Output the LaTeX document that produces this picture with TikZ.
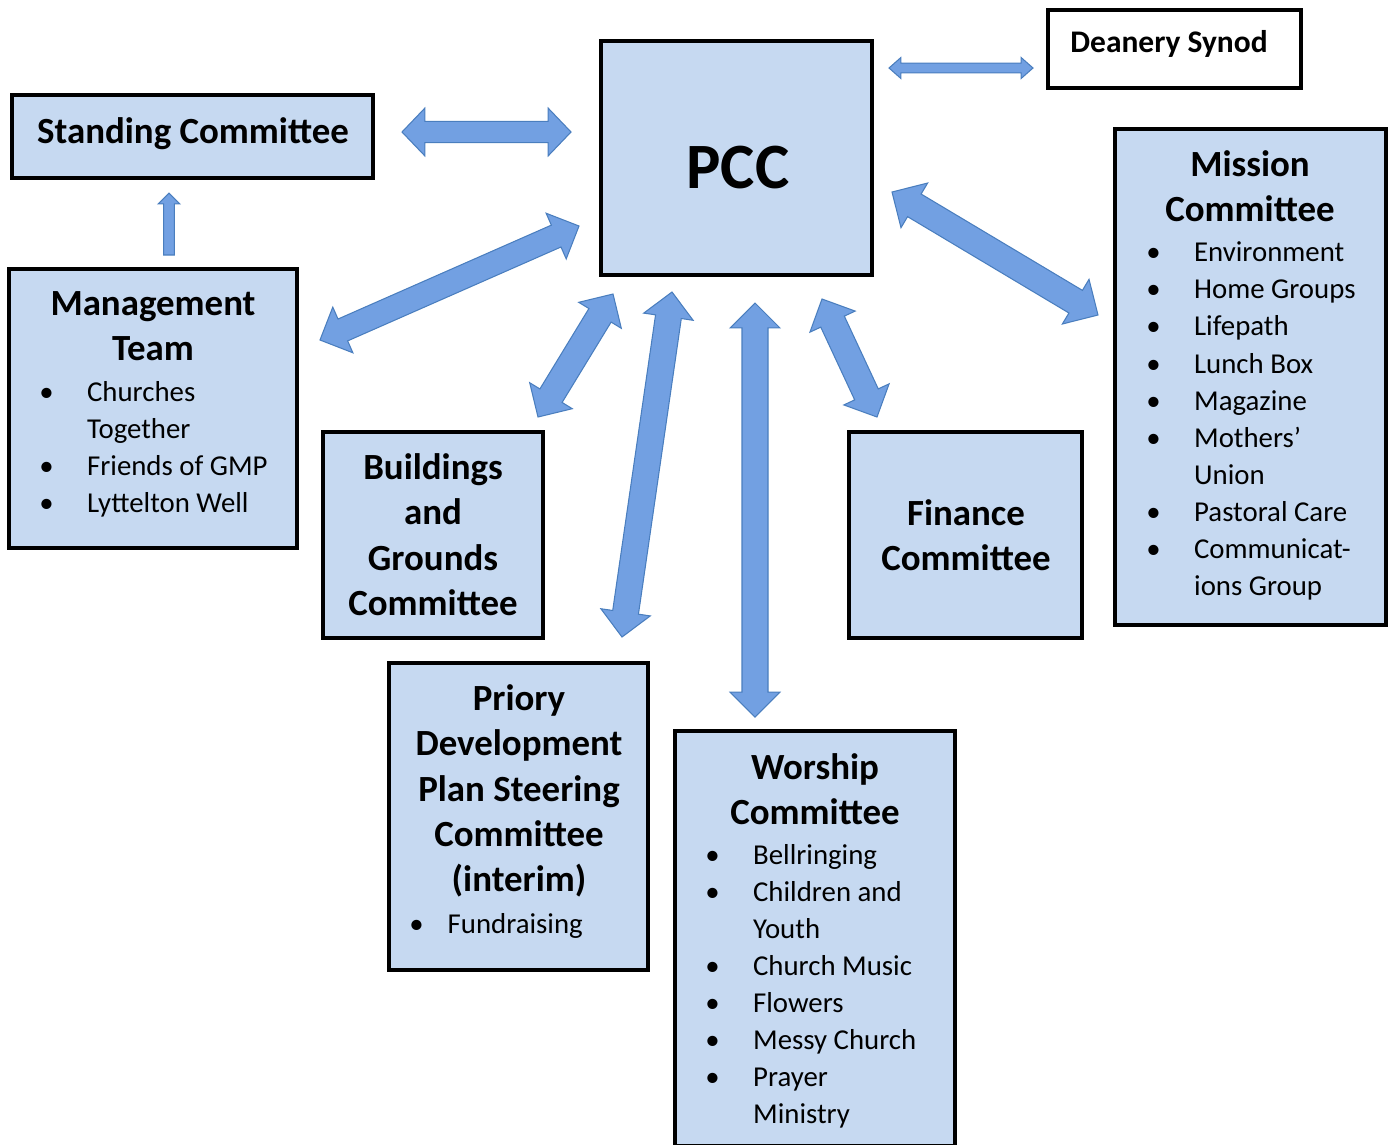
\documentclass[tikz,border=0pt]{standalone}
\usepackage{fontspec}
\setmainfont{Carlito}
\usetikzlibrary{calc, fit}

\definecolor{boxblue}{RGB}{198,217,241}
\definecolor{arrowfill}{RGB}{114,160,226}
\definecolor{arrowline}{RGB}{74,126,190}

\newcommand{\headfont}{\fontsize{21}{25.75}\selectfont\bfseries}
\newcommand{\listfont}{\fontsize{16.4}{21.1}\selectfont}
\newcommand{\bul}[1][27.2pt]{\makebox[#1][l]{\textbullet}}
\newcommand{\nobul}[1][27.2pt]{\hspace*{#1}}

% block arrow with a head at both ends: from, to, head length, head half width, shaft half width
\newcommand{\dblarrow}[5]{%
  \filldraw[blockarrow] (#1)
    -- ($(#1)!#3!(#2)!#4!90:(#2)$) -- ($(#1)!#3!(#2)!#5!90:(#2)$)
    -- ($(#2)!#3!(#1)!#5!-90:(#1)$) -- ($(#2)!#3!(#1)!#4!-90:(#1)$)
    -- (#2)
    -- ($(#2)!#3!(#1)!#4!90:(#1)$) -- ($(#2)!#3!(#1)!#5!90:(#1)$)
    -- ($(#1)!#3!(#2)!#5!-90:(#2)$) -- ($(#1)!#3!(#2)!#4!-90:(#2)$)
    -- cycle;}
% block arrow with a head at the second end only
\newcommand{\sglarrow}[5]{%
  \filldraw[blockarrow] ($(#1)!#5!90:(#2)$)
    -- ($(#2)!#3!(#1)!#5!-90:(#1)$) -- ($(#2)!#3!(#1)!#4!-90:(#1)$)
    -- (#2)
    -- ($(#2)!#3!(#1)!#4!90:(#1)$) -- ($(#2)!#3!(#1)!#5!90:(#1)$)
    -- ($(#1)!#5!-90:(#2)$)
    -- cycle;}

\begin{document}
\begin{tikzpicture}[x=0.02cm, y=-0.02cm,
  box/.style={draw=black, line width=2.3pt, fill=boxblue, inner sep=0pt},
  plainbox/.style={draw=black, line width=2.1pt, fill=white, inner sep=0pt},
  head/.style={font=\headfont, align=center, anchor=north, inner sep=0pt},
  items/.style={font=\listfont, align=left, anchor=north west, inner sep=0pt},
  blockarrow/.style={fill=arrowfill, draw=arrowline, line width=0.6pt, line join=miter}
]
\useasboundingbox (0,0) rectangle (1392,1144);

% ----------------- BOXES -----------------
\node[box, fit={(12,95) (373,178)}] (standing) {};
\node[box, fit={(601,41) (872,275)}] (pcc) {};
\node[plainbox, fit={(1048,10) (1301,88)}] (deanery) {};
\node[box, fit={(9,269) (297,548)}] (mgmt) {};
\node[box, fit={(323,432) (543,638)}] (build) {};
\node[box, fit={(849,432) (1082,638)}] (finance) {};
\node[box, fit={(1115,129) (1386,625)}] (mission) {};
\node[box, fit={(389,663) (648,970)}] (priory) {};
\node[box, fit={(675,731) (955,1146)}] (worship) {};

% ----------------- TEXTS -----------------
\node[font=\headfont, anchor=base, inner sep=0pt] (standtext) at (193,143) {Standing Committee};
\node[font=\fontsize{36.8}{44}\selectfont\bfseries, anchor=base, inner sep=0pt] (pcctext) at (738,188) {PCC};
\node[font=\fontsize{17.9}{21}\selectfont\bfseries, anchor=base, inner sep=0pt] (deanerytext) at (1169,52) {Deanery Synod};

\node[head] (mgmthead) at (153,283.5) {\strut Management\\Team};
\node[items] (mgmtlist) at (39,375) {\strut\bul Churches\\\nobul Together\\\bul Friends of GMP\\\bul Lyttelton Well};

\node[head] (buildhead) at (433,447.5) {\strut Buildings\\and\\Grounds\\Committee};
\node[head] (financehead) at (966,493.5) {\strut Finance\\Committee};

\node[head] (missionhead) at (1250,144.5) {\strut Mission\\Committee};
\node[items] (missionlist) at (1146,235.5) {\strut\bul Environment\\\bul Home Groups\\\bul Lifepath\\\bul Lunch Box\\\bul Magazine\\\bul Mothers’\\\nobul Union\\\bul Pastoral Care\\\bul Communicat-\\\nobul ions Group};

\node[head] (worshiphead) at (815,747) {\strut Worship\\Committee};
\node[items] (worshiplist) at (705,838) {\strut\bul Bellringing\\\bul Children and\\\nobul Youth\\\bul Church Music\\\bul Flowers\\\bul Messy Church\\\bul Prayer\\\nobul Ministry};

\node[head] (prioryhead) at (519,678.5) {\strut Priory\\Development\\Plan Steering\\Committee\\(interim)};
\node[items] (priorylist) at (409,907) {\strut\bul[18.1pt] Fundraising};

% ----------------- ARROW ENDS -----------------
\coordinate (standR) at (402,132);   \coordinate (pccL) at (571,132);
\coordinate (pccR) at (889,68);      \coordinate (deaneryL) at (1033,68);
\coordinate (mgmtT) at (169,255);    \coordinate (standB) at (169,193);
\coordinate (mgmtR) at (320,340);    \coordinate (pccSW) at (579,226);
\coordinate (buildT) at (538,417);   \coordinate (pccB1) at (613,294);
\coordinate (prioryT) at (622,637);  \coordinate (pccB2) at (672,292);
\coordinate (worshipT) at (755,717); \coordinate (pccB3) at (755,303);
\coordinate (financeT) at (877,417); \coordinate (pccB4) at (822,299);
\coordinate (missionL) at (1098,315); \coordinate (pccSE) at (892,192);

% ----------------- ARROWS -----------------
\dblarrow{standR}{pccL}{13pt}{13.6pt}{6pt}
\dblarrow{pccR}{deaneryL}{6.8pt}{6pt}{2.8pt}
\sglarrow{mgmtT}{standB}{6.2pt}{6.2pt}{3.1pt}
\dblarrow{mgmtR}{pccSW}{14.2pt}{14.2pt}{6.8pt}
\dblarrow{buildT}{pccB1}{14.2pt}{14.2pt}{7.4pt}
\dblarrow{prioryT}{pccB2}{14.2pt}{14.2pt}{7.4pt}
\dblarrow{worshipT}{pccB3}{14.2pt}{14.2pt}{7.4pt}
\dblarrow{financeT}{pccB4}{14.2pt}{14.2pt}{7.4pt}
\dblarrow{missionL}{pccSE}{14.8pt}{14.8pt}{7.5pt}

\end{tikzpicture}
\end{document}
